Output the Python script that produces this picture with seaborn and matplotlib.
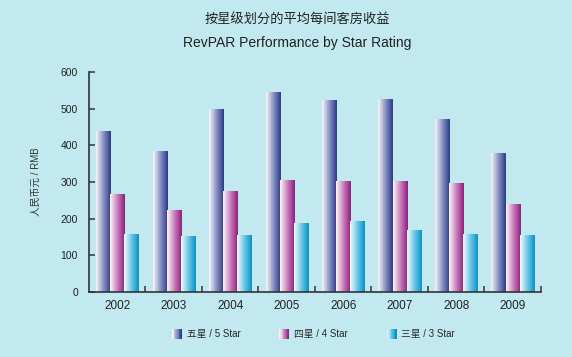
import numpy as np
import pandas as pd
import matplotlib
matplotlib.use("Agg")
import matplotlib.pyplot as plt
import seaborn as sns
from matplotlib.colors import LinearSegmentedColormap, to_rgb
from matplotlib.patches import Rectangle
from matplotlib.legend_handler import HandlerBase

# Data
years = ["2002", "2003", "2004", "2005", "2006", "2007", "2008", "2009"]
five_star = [439, 384, 499, 545, 523, 526, 472, 379]
four_star = [267, 224, 275, 305, 303, 303, 297, 240]
three_star = [158, 153, 155, 187, 194, 169, 158, 155]
series_labels = ["五星 / 5 Star", "四星 / 4 Star", "三星 / 3 Star"]
series_colors = ["#2b3a8c", "#971a80", "#0095cc"]

bg = "#c2e8f0"

sns.set_style("white")
plt.rcParams["font.family"] = ["Liberation Sans", "Noto Sans CJK SC"]

df = pd.DataFrame({
    "year": years * 3,
    "value": five_star + four_star + three_star,
    "star": [series_labels[0]] * 8 + [series_labels[1]] * 8 + [series_labels[2]] * 8,
})

fig = plt.figure(figsize=(5.72, 3.57), dpi=100, facecolor=bg)
ax = fig.add_axes([0.1556, 0.182, 0.79, 0.616])
ax.set_facecolor(bg)

sns.barplot(data=df, x="year", y="value", hue="star", hue_order=series_labels,
            palette=series_colors, width=0.75, legend=False, ax=ax)


def make_cmap(c):
    r, g, b = to_rgb(c)
    light = (0.96 + 0.04 * r, 0.96 + 0.04 * g, 0.96 + 0.04 * b)
    mid = (0.45 + 0.55 * r, 0.45 + 0.55 * g, 0.45 + 0.55 * b)
    return LinearSegmentedColormap.from_list("g", [light, mid, c])


grad = np.linspace(0, 1, 64).reshape(1, -1)
cmaps = [make_cmap(c) for c in series_colors]

# paint each bar with a horizontal gradient
for cont, cmap in zip(ax.containers, cmaps):
    for bar in cont:
        x0, y0 = bar.get_x(), bar.get_y()
        w, h = bar.get_width(), bar.get_height()
        im = ax.imshow(grad, cmap=cmap, aspect="auto", extent=[x0, x0 + w, y0, y0 + h],
                       zorder=bar.get_zorder(), interpolation="bilinear")
        im.set_clip_path(bar)
        bar.set_facecolor("none")
        bar.set_edgecolor("none")

ax.set_xlim(-0.5, 7.5)
ax.set_ylim(0, 600)
ax.set_yticks(range(0, 601, 100))
ax.set_xlabel("")
ax.set_ylabel("人民币元 / RMB", fontsize=7, color="#333333", labelpad=14)

ax.set_xticks(np.arange(0.5, 8, 1), minor=True)
ax.tick_params(axis="x", which="major", bottom=True, length=0, labelsize=8.5, pad=6,
               colors="#222222")
ax.tick_params(axis="x", which="minor", bottom=True, direction="in", length=4, width=1.2,
               color="#444444")
ax.tick_params(axis="y", left=True, direction="in", length=4, width=1.2, color="#444444",
               labelsize=7.5, labelcolor="#222222", pad=8)

for s in ["top", "right"]:
    ax.spines[s].set_visible(False)
for s in ["left", "bottom"]:
    ax.spines[s].set_color("#333333")
    ax.spines[s].set_linewidth(1.2)

fig.text(0.52, 0.944, "按星级划分的平均每间客房收益", ha="center", va="center",
         fontsize=9.5, color="#222222")
fig.text(0.52, 0.880, "RevPAR Performance by Star Rating", ha="center", va="center",
         fontsize=10, color="#222222")


class GradientHandler(HandlerBase):
    def __init__(self, cmap):
        super().__init__()
        self.cmap = cmap

    def create_artists(self, legend, orig_handle, xdescent, ydescent, width, height,
                       fontsize, trans):
        artists = []
        n = 12
        for i in range(n):
            r = Rectangle((-xdescent + width * i / n, -ydescent), width / n + 0.2, height,
                          facecolor=self.cmap(i / (n - 1)), edgecolor="none",
                          transform=trans)
            artists.append(r)
        return artists


handles = [Rectangle((0, 0), 1, 1) for _ in series_labels]
fig.legend(handles, series_labels, loc="center", bbox_to_anchor=(0.548, 0.064), ncol=3,
           frameon=False, fontsize=7, handlelength=1.0, handleheight=1.1,
           handletextpad=0.5, columnspacing=4.0,
           handler_map={h: GradientHandler(c) for h, c in zip(handles, cmaps)})

fig.savefig("out.png", dpi=100, facecolor=bg)
